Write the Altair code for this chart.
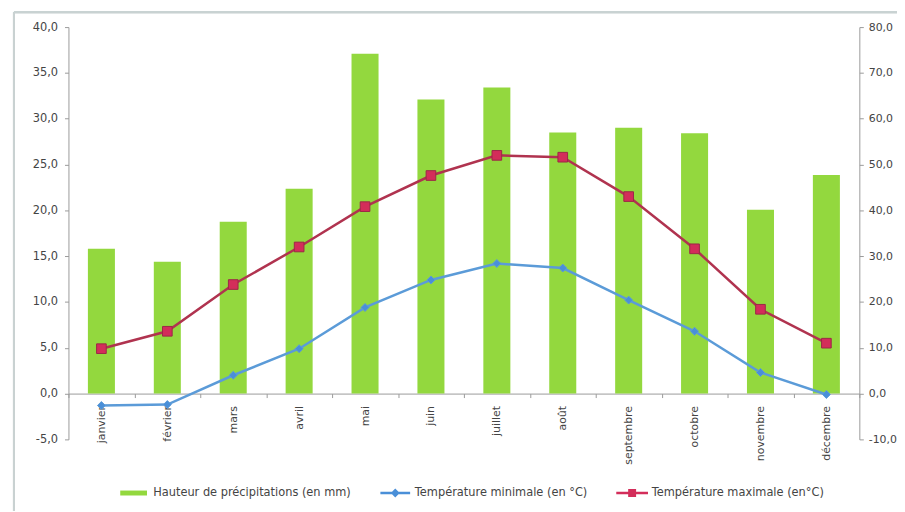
import altair as alt
import pandas as pd

months = ["janvier", "février", "mars", "avril", "mai", "juin", "juillet",
          "août", "septembre", "octobre", "novembre", "décembre"]
precip = [31.6, 28.8, 37.5, 44.7, 74.2, 64.2, 66.8, 57.0, 58.0, 56.8, 40.1, 47.7]
tmin = [-1.3, -1.2, 2.0, 4.9, 9.4, 12.4, 14.2, 13.7, 10.2, 6.8, 2.3, -0.1]
tmax = [4.9, 6.8, 11.9, 16.0, 20.4, 23.8, 26.0, 25.8, 21.5, 15.8, 9.2, 5.5]
series = ["Hauteur de précipitations (en mm)", "Température minimale (en °C)",
          "Température maximale (en°C)"]
left_ticks = [-5, 0, 5, 10, 15, 20, 25, 30, 35, 40]
right_ticks = [-10, 0, 10, 20, 30, 40, 50, 60, 70, 80]

GREEN = "#93D83E"
BLUE_LINE = "#5B9BD8"
BLUE_PT = "#4A8FD8"
RED_LINE = "#B0334F"
RED_PT = "#D32D5A"
FONT = "DejaVu Sans"
AX = "#9a9a9a"
TXT = "#444444"

df = pd.DataFrame({"mois": months, "precip": precip, "tmin": tmin, "tmax": tmax})
leg_df = pd.DataFrame({"serie": series})

label_expr = "(datum.value < 0 ? '-' : '') + replace(format(abs(datum.value), '.1f'), '.', ',')"

x_enc = alt.X(
    "mois:N", sort=months,
    scale=alt.Scale(paddingInner=0, paddingOuter=0),
    axis=alt.Axis(title=None, orient="bottom", offset=-46.2, labelAngle=270,
                  labelAlign="right", labelBaseline="middle", labelPadding=8,
                  tickBand="extent", tickSize=4, domainColor=AX, tickColor=AX,
                  labelColor=TXT, labelFont=FONT, labelFontSize=11, domainWidth=1),
)

left_axis = alt.Axis(title=None, orient="left", values=left_ticks, labelExpr=label_expr,
                     tickSize=4, labelPadding=7, domainColor=AX, tickColor=AX,
                     labelColor=TXT, labelFont=FONT, labelFontSize=11.5, grid=False)
right_axis = alt.Axis(title=None, orient="right", values=right_ticks, labelExpr=label_expr,
                      tickSize=4, labelPadding=5, domainColor=AX, tickColor=AX,
                      labelColor=TXT, labelFont=FONT, labelFontSize=11, grid=False)

base = alt.Chart(df)

bars = base.mark_bar(color=GREEN, width=alt.RelativeBandSize(0.41)).encode(
    x=x_enc,
    y=alt.Y("precip:Q", scale=alt.Scale(domain=[-10, 80], nice=False, zero=False),
            axis=right_axis),
)

tscale = alt.Scale(domain=[-5, 40], nice=False, zero=False)

tmin_line = base.mark_line(color=BLUE_LINE, strokeWidth=2.5).encode(
    x=x_enc, y=alt.Y("tmin:Q", scale=tscale, axis=left_axis))
tmax_line = base.mark_line(color=RED_LINE, strokeWidth=2.5).encode(
    x=x_enc, y=alt.Y("tmax:Q", scale=tscale, axis=left_axis))
tmin_pts = base.mark_point(shape="diamond", filled=True, fill=BLUE_PT, stroke=BLUE_LINE,
                           strokeWidth=1, size=64, opacity=1).encode(
    x=x_enc, y=alt.Y("tmin:Q", scale=tscale, axis=left_axis))
tmax_pts = base.mark_point(shape="square", filled=True, fill=RED_PT, stroke="#9C2846",
                           strokeWidth=1, size=95, opacity=1).encode(
    x=x_enc, y=alt.Y("tmax:Q", scale=tscale, axis=left_axis))

temps = alt.layer(tmin_line, tmax_line, tmin_pts, tmax_pts)

paths = [
    "M-2.7,-0.5H2.7V0.5H-2.7Z",
    "M-3,-0.25H3V0.25H-3Z M0,-0.9L0.9,0L0,0.9L-0.9,0Z",
    "M-3.2,-0.25H3.2V0.25H-3.2Z M-0.8,-0.8H0.8V0.8H-0.8Z",
]
leg = alt.Legend(title=None, orient="none", legendX=60, legendY=464,
                 direction="horizontal", symbolSize=100, symbolStrokeWidth=0,
                 labelOffset=14, columnPadding=28, labelFont=FONT, labelFontSize=11.5,
                 labelColor=TXT, labelLimit=400, padding=0)

legend_layer = alt.Chart(leg_df).mark_point(filled=True, opacity=1).encode(
    x=alt.value(-500), y=alt.value(-500),
    color=alt.Color("serie:N", scale=alt.Scale(domain=series,
                                               range=[GREEN, BLUE_PT, RED_PT]), legend=leg),
    shape=alt.Shape("serie:N", scale=alt.Scale(domain=series, range=paths), legend=leg),
)

frame_top = alt.Chart(leg_df).mark_rule(color="#c9d2d2", strokeWidth=2).encode(
    x=alt.value(-55), x2=alt.value(845), y=alt.value(-15))
frame_left = alt.Chart(leg_df).mark_rule(color="#c9d2d2", strokeWidth=2).encode(
    x=alt.value(-55), y=alt.value(-15), y2=alt.value(490))

chart = alt.layer(frame_top, frame_left, bars, temps, legend_layer).resolve_scale(
    y="independent"
).properties(
    width=798, height=416,
    autosize=alt.AutoSizeParams(type="none"),
    padding={"left": 61, "top": 17, "right": 38, "bottom": 70},
    background="white",
).configure_view(stroke=None)

chart.save("out.html", embed_options={"renderer": "svg", "actions": False})
